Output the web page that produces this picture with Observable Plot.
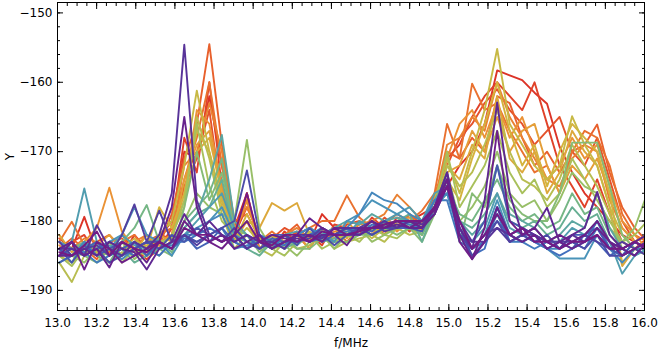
<!DOCTYPE html>
<html><head><meta charset="utf-8">
<script src="https://cdn.jsdelivr.net/npm/d3@7"></script>
<script src="https://cdn.jsdelivr.net/npm/@observablehq/plot@0.6"></script>
<style>body{margin:0;background:#fff;}</style>
</head><body><div id="chart"></div>
<script>
const freqMHz = [13.009,13.073,13.137,13.201,13.265,13.329,13.393,13.456, 13.520,13.584,13.648,13.712,13.776,13.840,13.904,13.968, 14.032,14.096,14.160,14.224,14.288,14.352,14.415,14.479, 14.543,14.607,14.671,14.735,14.799,14.863,14.927,14.991, 15.055,15.119,15.183,15.247,15.311,15.375,15.438,15.502, 15.566,15.630,15.694,15.758,15.822,15.886,15.950,16.014];

const y00 = [-183,-184,-179.4,-184.5,-183,-185,-182,-184, -182.5,-180,-170,-171,-162,-172,-181,-176, -183,-182,-184,-181.5,-183,-179,-181,-182, -181,-180,-182,-179.5,-180,-179,-178,-175, -172,-170,-166,-158.3,-159,-159.7,-161.5,-163.1, -169.3,-173,-176,-178,-180,-182,-183,-182];
const y01 = [-185,-183,-182,-185,-184.5,-182,-184,-185.5, -184,-181,-168,-173,-160,-175,-182,-178, -182,-184,-181.5,-183,-182,-183.5,-180.5,-181, -182,-179.5,-181,-180,-181.5,-180,-177,-171, -169,-165,-162,-160,-162,-164,-160,-166, -172,-175,-178,-174,-179,-183,-184,-182.5];
const y02 = [-182.5,-184,-185,-183,-182,-184,-185,-183, -182,-182.5,-175,-171,-164,-177,-183,-176, -184,-182.5,-181,-182,-184,-181,-183,-180.5, -180,-181.5,-179.5,-181,-179,-181.5,-176,-172, -168,-166,-163,-161,-164,-166,-169,-167, -165,-170,-172,-168,-174,-180,-183,-184];
const y03 = [-184,-182.5,-184,-185.5,-183,-182.5,-184,-182, -183.5,-179,-171,-166,-154.5,-169,-180,-179, -182.5,-183,-182,-180.5,-183,-182,-181,-183, -181,-182,-180,-181,-179,-180.5,-177,-170, -171,-168,-170,-162,-163,-168,-172,-170, -173,-170,-169,-166.1,-173,-178,-181,-183];
const y04 = [-183,-180.1,-183.5,-184,-185,-183,-182,-184.5, -182,-181,-174,-168,-160,-172,-182,-177, -183,-181.5,-183,-182,-181,-180,-180,-176.3, -179.5,-181,-180.5,-179,-180,-178.5,-176,-166, -171,-160.2,-164,-163,-167,-170,-173,-172, -176,-170,-167,-168,-172,-179,-182,-183];
const y05 = [-185,-184,-182.5,-183,-184.5,-185,-183,-182, -184,-182,-172,-170,-163,-170,-181,-178, -182,-183.5,-182,-181,-182.5,-183,-181.5,-182, -180.5,-180,-179,-176.2,-178,-180,-177,-169, -168,-165,-167,-160,-165,-168,-171,-174, -175,-171,-169,-170,-177,-181,-183,-182];
const y06 = [-183.5,-185,-183,-181,-175.2,-181.5,-184,-183, -183,-182,-176,-164,-166,-175,-182,-177, -183,-184,-182,-183.5,-181,-182,-183,-181, -181,-182,-180,-181.5,-180,-181,-177,-171, -166,-164,-168,-163,-168,-165,-170,-174, -172,-168,-171,-169,-175,-180,-182,-184];
const y07 = [-184,-183,-185,-183.5,-182,-184,-183,-185, -182,-183,-174,-169,-167,-176,-183,-180, -184,-182,-183,-182,-184,-181,-182.5,-180, -182,-181,-181.5,-180,-179.5,-181,-178,-173, -172,-167,-170,-165,-170,-167,-166,-172, -176,-172,-174,-171,-176,-181,-183,-182];
const y08 = [-182,-184.5,-183,-185,-184,-183,-184.5,-182, -183.5,-182,-177,-170,-168,-176,-182,-180, -181,-177.4,-178.5,-177.4,-182,-183,-181,-182.5, -180,-181.5,-180,-180.5,-181,-182,-178,-172, -174,-169,-171,-162,-171,-173,-170,-176, -173,-167,-170,-172,-178,-186.5,-184,-183];
const y09 = [-185,-186,-184,-183,-185,-184,-182.5,-184, -178,-181,-176,-167,-170,-178,-183,-179, -182.5,-184,-183,-182,-183,-182.5,-183,-181.5, -182,-181,-182,-180,-180,-181.5,-179,-174, -177,-171,-166,-160,-167,-172,-169,-175, -170,-166,-168,-170,-176,-186,-184,-185];
const y10 = [-184,-185,-183,-184.5,-183,-185,-184,-183.5, -182,-180,-172,-161.2,-170,-177,-183,-181, -183,-182,-184,-183,-181.5,-183,-182,-182, -181,-182.5,-181,-181,-180,-180.5,-177,-171, -176,-170,-164,-155.2,-166,-169,-172,-174, -172,-164.9,-169,-172,-178,-182,-184,-183];
const y11 = [-186,-188.8,-185,-184,-186,-184.5,-185,-184, -184,-182,-178,-165,-171,-179,-184,-182, -184,-185,-183,-184,-183.5,-182,-184,-183, -182.5,-182,-183,-181,-182,-181.5,-179,-172, -175,-173,-169,-164,-170,-174,-175,-177, -174,-169,-172,-175,-179,-184,-185,-183];
const y12 = [-185,-186.5,-184,-185,-183,-186,-184,-185, -183,-182.5,-177,-166,-175,-180,-182,-183, -183,-184,-185,-183,-182,-184,-183,-182, -183,-181,-182,-182.5,-181,-182,-178,-170, -178,-175,-172,-167,-173,-176,-174,-178, -176,-171,-174,-177,-180,-183,-182,-180];
const y13 = [-184,-185,-186,-184,-185,-183,-185.5,-184, -185,-183,-180,-176,-178,-179,-180,-168.3, -181,-184,-183.5,-185,-183,-182,-184,-182, -181,-183,-182,-181,-180.5,-182,-178,-173, -180,-178,-175,-170,-176,-178,-177,-180, -177,-173,-175,-176,-181,-183,-181,-176];
const y14 = [-183,-184,-185,-186,-184,-185,-183,-184, -184,-185,-178,-170,-177,-173,-181,-182, -184.5,-183,-182,-184,-184,-182.5,-183,-183, -182,-182,-181,-182,-181,-183,-179,-174, -183,-176,-178,-172,-177,-179,-180,-180, -176,-168.7,-168.7,-168.7,-175,-182,-184,-185];
const y15 = [-185,-184,-183,-185,-186,-183,-181,-177.7, -183,-184.5,-180,-178,-176,-171,-182,-183, -183,-184,-182,-183.5,-182,-181.5,-182,-181, -181,-181,-180.5,-181,-180,-182,-178,-175, -179,-180,-177,-174,-178,-180,-179,-181, -180,-176,-179,-178,-182,-184,-183,-184];
const y16 = [-186,-185,-184.5,-183,-185,-184,-186,-185, -184,-183,-181,-179,-178,-174,-182,-184, -185,-183,-184,-183,-182,-183,-182.5,-181, -181.5,-180,-181,-180,-179,-183,-178,-176, -180,-181,-179,-176,-180,-181,-180,-182, -181,-178,-180,-179,-183,-185,-184,-183];
const y17 = [-184,-186,-183,-184,-183.5,-185,-184,-183, -183,-184,-181,-179,-174,-167.6,-180,-182, -183,-182.5,-184,-182,-183,-182,-181,-180, -180.5,-179,-180,-179.5,-180,-181,-177,-174, -180,-182,-180,-172,-179,-180,-181,-183, -182,-180,-181,-176,-181,-184,-185,-184];
const y18 = [-185,-183,-175.3,-183,-184,-182,-183.5,-184, -184,-183,-182,-180,-178,-176,-181,-183, -184,-183,-182,-181.5,-183,-182,-181,-182, -180,-181,-180,-179,-178,-180,-176,-175, -181,-183,-181,-176,-181,-182,-181,-183, -183,-181,-182,-180,-183,-187.6,-185,-184];
const y19 = [-183,-184,-185,-184,-183,-182,-178,-182, -183,-185,-182,-181,-180,-178,-182,-183, -184,-183,-183,-182,-181,-182,-183,-180, -179,-177,-178,-179,-180,-181,-178,-176, -182,-184,-182,-177,-182,-183,-182,-184, -185.4,-185.4,-185.4,-182,-184,-185,-184,-183];
const y20 = [-184,-185,-183,-185,-184,-185.5,-184,-183, -184,-183.5,-182,-182,-180,-179,-183,-184, -182,-183,-184,-182,-181,-182.5,-181,-181, -179,-175.9,-177,-177.5,-179,-180,-177,-176, -182,-184,-183,-178,-182,-181,-183,-184, -184,-183,-183,-180,-184,-186,-184,-184];
const y21 = [-185,-184,-184.5,-186,-185,-184,-183,-185, -183,-184,-182.5,-183,-182,-181,-184,-183.5, -183,-184,-182,-183,-182,-181,-182,-181.5, -181,-182,-181,-180,-180.5,-181,-177,-177, -183,-184,-183,-179,-183,-183,-184,-183, -184,-183,-184,-181,-184,-185,-183,-184];
const y22 = [-184,-183,-185,-184,-183,-184,-185,-184, -185,-183,-183,-182,-181,-182,-183,-184, -182,-183,-183.5,-182,-183,-182.5,-181,-182, -182,-180.5,-181,-181,-180,-180,-178,-175, -182,-185,-184,-178,-183,-182,-183,-184, -185,-184,-183,-180,-183,-184,-185,-183];
const y23 = [-186,-185,-184,-183,-185,-184,-183,-185, -183,-184,-182,-184,-183,-181,-183,-182, -184,-182.5,-183,-183,-182,-181.5,-182,-182, -181,-181.5,-180,-181,-181,-180,-179,-174, -181,-184,-182,-180,-182,-183,-182,-183, -184,-182,-182,-183,-185,-184,-183,-184];
const y24 = [-184,-186,-183.5,-185,-184,-183,-184,-183, -184,-182,-183,-181,-182,-183,-182,-184, -183,-182,-182,-183.5,-181,-183,-182,-181, -182,-181,-180.5,-180,-181,-181.5,-178,-173, -182,-183,-180,-172,-180,-181,-182,-184, -183,-184,-182,-181,-184,-185,-183,-184];
const y25 = [-185,-184,-185,-184,-186,-185,-184,-183, -183,-184,-182,-183,-182,-181,-180,-172.7, -182,-184,-183,-182,-183,-182,-183.5,-182, -181,-182,-181,-181,-180,-181,-178,-174, -181,-185,-183,-180,-183,-182,-183,-182, -184,-183,-184,-182,-185,-185,-184,-183];
const y26 = [-183,-185,-184,-183.5,-185,-182,-177.6,-183, -178.5,-183,-182,-183.5,-182,-183,-181,-183, -184,-183,-182,-183,-182.5,-181,-182,-181, -181,-180,-181.5,-181,-180,-181,-179,-175, -182,-184,-182,-181,-183,-182,-182,-183, -183,-183,-182,-183,-184,-183,-184,-185];
const y27 = [-184,-184,-185,-180.6,-184,-185,-183,-184, -182,-176,-154.6,-177,-182,-183,-182,-184, -183,-183,-184,-182,-182,-182.5,-181,-181, -181,-181,-180,-181,-180,-180.5,-178,-174, -180,-183,-183,-181,-182,-181,-182,-183, -184,-182,-183,-182,-184,-184,-183,-184];
const y28 = [-185,-185,-184,-185,-183,-184,-184.5,-187, -184,-183,-179,-182,-180,-182,-183,-182, -183,-184,-183,-182.5,-183,-182,-182,-182, -182,-181,-181,-180.5,-181,-181,-178,-173, -181,-184,-177,-162.9,-176,-182,-181,-178.1, -183,-182,-181,-175.8,-182,-184,-183,-182];
const y29 = [-184,-183,-185,-184,-186.7,-183,-184,-186, -183,-178,-165,-178,-183,-182,-184,-183, -182,-184,-183,-182,-179.6,-181,-182,-183.5, -181,-181,-181,-180,-180,-181,-179,-175, -182,-185.5,-183,-178,-182,-183,-182,-184, -183,-184,-183,-181,-183,-184,-185,-183];
const y30 = [-185,-183,-187,-183,-184,-186,-185,-184, -183,-184,-180,-182,-183,-184,-182,-180, -183,-182,-182.5,-183,-182,-183,-181,-182, -181.5,-180,-181,-180,-181,-180,-178.5,-174, -183,-185.5,-181,-167,-180,-182,-181,-183, -182,-183,-182,-180,-183,-185,-184,-183];
const y31 = [-184.5,-185,-183.5,-181.5,-185,-183,-184,-184.5, -183,-184,-181,-182,-182,-183,-182,-176, -183,-183.5,-182,-182,-183,-181.5,-182,-182, -181.5,-181,-180.5,-180,-180,-180,-178,-175, -180,-184,-182,-179,-182,-181,-183,-183, -184,-183,-183,-182,-184,-184,-183,-184];

const seriesList = [y00,y01,y02,y03,y04,y05,y06,y07,y08,y09,y10,y11,y12,y13,y14,y15,y16,y17,y18,y19,y20,y21,y22,y23,y24,y25,y26,y27,y28,y29,y30,y31];
const xTickValues = [13.0,13.2,13.4,13.6,13.8,14.0,14.2,14.4,14.6,14.8,15.0,15.2,15.4,15.6,15.8,16.0];
const yTickValues = [-190,-180,-170,-160,-150];
const rainbowStops = ["#741a84","#5e2892","#4a4ea9","#4072c0","#4a98b8","#6cb48c","#a2c25f","#d2b63e","#ea9536","#e8622c","#dc3327"];

const rainbow = d3.piecewise(d3.interpolateRgb, rainbowStops);
const n = seriesList.length;
const rows = [];
seriesList.forEach((vals, i) => {
  const c = rainbow(1 - i / (n - 1));
  vals.forEach((v, k) => rows.push({f: freqMHz[k], y: v, s: i, c}));
});
const xMinor = d3.range(0, 61).map(i => +(13 + i * 0.05).toFixed(2));
const yMinor = d3.range(-192, -148, 2);

const chart = Plot.plot({
  width: 660, height: 350,
  marginLeft: 57, marginRight: 16, marginTop: 2, marginBottom: 40,
  style: {fontFamily: "DejaVu Sans", fontSize: "12px", background: "white", color: "black"},
  x: {domain: [13, 16]},
  y: {domain: [-192.9, -148.5]},
  marks: [
    Plot.line(rows, {x: "f", y: "y", z: "s", stroke: "c", strokeWidth: 1.9, clip: true}),
    Plot.frame({stroke: "black"}),
    Plot.axisX({ticks: xTickValues, anchor: "bottom", tickSize: -6, fill: "none", label: null}),
    Plot.axisX({ticks: xTickValues, anchor: "top", tickSize: -6, fill: "none", label: null}),
    Plot.axisX({ticks: xMinor, anchor: "bottom", tickSize: -3, fill: "none", label: null}),
    Plot.axisX({ticks: xMinor, anchor: "top", tickSize: -3, fill: "none", label: null}),
    Plot.axisY({ticks: yTickValues, anchor: "left", tickSize: -6, fill: "none", label: null}),
    Plot.axisY({ticks: yTickValues, anchor: "right", tickSize: -6, fill: "none", label: null}),
    Plot.axisY({ticks: yMinor, anchor: "left", tickSize: -3, fill: "none", label: null}),
    Plot.axisY({ticks: yMinor, anchor: "right", tickSize: -3, fill: "none", label: null}),
    Plot.axisX({ticks: xTickValues, anchor: "bottom", tickSize: 0, tickPadding: 8, tickFormat: d3.format(".1f"), label: "f/MHz", labelAnchor: "center", labelArrow: "none", labelOffset: 36}),
    Plot.axisY({ticks: yTickValues, anchor: "left", tickSize: 0, tickPadding: 5, label: "Y", labelAnchor: "center", labelArrow: "none", labelOffset: 52})
  ]
});
document.getElementById("chart").appendChild(chart);
</script>
</body></html>
